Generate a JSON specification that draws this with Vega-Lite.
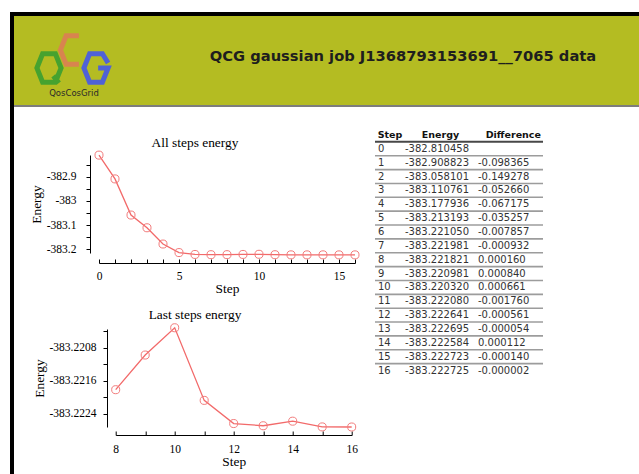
{
  "$schema": "https://vega.github.io/schema/vega-lite/v6.json",
  "background": "white",
  "padding": {"left": 10, "top": 12, "right": 0, "bottom": 0},
  "config": {
    "view": {"stroke": null},
    "axis": {
      "domainColor": "black", "tickColor": "black", "labelColor": "black", "titleColor": "black",
      "labelFont": "Liberation Serif", "titleFont": "Liberation Serif",
      "labelFontSize": 11.5, "titleFontSize": 13.4, "titleFontWeight": "normal",
      "grid": false, "domainWidth": 1, "tickWidth": 1, "labelOverlap": false, "labelFlush": false
    }
  },
  "datasets": {
    "energy": [
      {"Step": 0, "Energy": -382.810458, "Difference": null},
      {"Step": 1, "Energy": -382.908823, "Difference": -0.098365},
      {"Step": 2, "Energy": -383.058101, "Difference": -0.149278},
      {"Step": 3, "Energy": -383.110761, "Difference": -0.052660},
      {"Step": 4, "Energy": -383.177936, "Difference": -0.067175},
      {"Step": 5, "Energy": -383.213193, "Difference": -0.035257},
      {"Step": 6, "Energy": -383.221050, "Difference": -0.007857},
      {"Step": 7, "Energy": -383.221981, "Difference": -0.000932},
      {"Step": 8, "Energy": -383.221821, "Difference": 0.000160},
      {"Step": 9, "Energy": -383.220981, "Difference": 0.000840},
      {"Step": 10, "Energy": -383.220320, "Difference": 0.000661},
      {"Step": 11, "Energy": -383.222080, "Difference": -0.001760},
      {"Step": 12, "Energy": -383.222641, "Difference": -0.000561},
      {"Step": 13, "Energy": -383.222695, "Difference": -0.000054},
      {"Step": 14, "Energy": -383.222584, "Difference": 0.000112},
      {"Step": 15, "Energy": -383.222723, "Difference": -0.000140},
      {"Step": 16, "Energy": -383.222725, "Difference": -0.000002}
    ]
  },
  "bounds": "flush",
  "spacing": 0,
  "hconcat": [
    {"width": 4, "height": 462, "data": {"values": [{}]}, "mark": {"type": "text", "text": "", "fontSize": 0.1}, "view": {"fill": "black", "stroke": null}},
    {
      "bounds": "flush",
      "spacing": 0,
      "vconcat": [
        {"width": 625, "height": 4, "data": {"values": [{}]}, "mark": {"type": "text", "text": "", "fontSize": 0.1}, "view": {"fill": "black", "stroke": null}},
        {
          "width": 625, "height": 89,
          "view": {"fill": "#b4bc22", "stroke": null},
          "data": {"values": [
            {"letter": "Q", "level": "bottom", "name": "QosCosGrid", "title": "QCG gaussian job J1368793153691__7065 data"},
            {"letter": "C", "level": "top", "name": "QosCosGrid", "title": "QCG gaussian job J1368793153691__7065 data"},
            {"letter": "G", "level": "bottom", "name": "QosCosGrid", "title": "QCG gaussian job J1368793153691__7065 data"}
          ]},
          "layer": [
            {
              "mark": {"type": "point", "filled": false, "size": 810, "strokeWidth": 5, "opacity": 1},
              "encoding": {
                "x": {"field": "letter", "type": "nominal", "axis": null, "scale": {"type": "point", "domain": ["Q", "C", "G"], "range": [35, 82], "padding": 0}},
                "y": {"field": "level", "type": "nominal", "axis": null, "scale": {"type": "point", "domain": ["top", "bottom"], "range": [34, 52], "padding": 0}},
                "shape": {"field": "letter", "type": "nominal", "legend": null, "scale": {"domain": ["Q", "C", "G"], "range": [
                  "M-0.85,0L-0.45,-1L0.45,-1L0.85,0L0.45,1L-0.45,1Z M0.3,0.55L0.7,1.05",
                  "M0.45,-1L-0.45,-1L-0.85,0L-0.45,1L0.45,1",
                  "M0.85,-0.35L0.45,-1L-0.45,-1L-0.85,0L-0.45,1L0.45,1L0.85,0L0.15,0"
                ]}},
                "color": {"field": "letter", "type": "nominal", "legend": null, "scale": {"domain": ["Q", "C", "G"], "range": ["#46a22f", "#d8844f", "#4f62d6"]}}
              }
            },
            {
              "transform": [{"filter": "datum.letter == 'Q'"}],
              "mark": {"type": "text", "font": "DejaVu Sans", "fontSize": 8.5, "color": "#2a2a2a", "dx": -252.5, "dy": 32, "baseline": "middle"},
              "encoding": {"text": {"field": "name"}}
            },
            {
              "transform": [{"filter": "datum.letter == 'Q'"}],
              "mark": {"type": "text", "font": "DejaVu Sans", "fontWeight": "bold", "fontSize": 14.7, "color": "#1e1e1e", "dx": 76.5, "dy": -4, "baseline": "middle"},
              "encoding": {"text": {"field": "title"}}
            }
          ]
        },
        {"width": 625, "height": 2, "data": {"values": [{}]}, "mark": {"type": "text", "text": "", "fontSize": 0.1}, "view": {"fill": "#7d7d7d", "stroke": null}},
        {
          "bounds": "flush",
          "spacing": 361,
          "hconcat": [
            {
              "bounds": "flush",
              "spacing": 0,
              "vconcat": [
                {"width": 1, "height": 48, "data": {"values": [{}]}, "mark": {"type": "text", "text": "", "fontSize": 0.1}},
                {
                  "bounds": "flush",
                  "spacing": 84,
                  "hconcat": [
                    {"width": 1, "height": 98, "data": {"values": [{}]}, "mark": {"type": "text", "text": "", "fontSize": 0.1}},
                    {
                      "width": 256, "height": 98,
                      "data": {"name": "energy"},
                      "title": {"text": "All steps energy", "font": "Liberation Serif", "fontSize": 13.4, "fontWeight": "normal", "color": "black", "anchor": "middle", "dx": -32, "offset": 0},
                      "mark": {"type": "line", "color": "#f26a6a", "strokeWidth": 1.3, "point": {"filled": false, "size": 65, "color": "#f27c7c", "strokeWidth": 1}},
                      "encoding": {
                        "x": {"field": "Step", "type": "quantitative", "scale": {"domain": [0, 16], "nice": false, "zero": false},
                          "axis": {"title": "Step", "values": [0,1,2,3,4,5,6,7,8,9,10,11,12,13,14,15,16], "labelExpr": "datum.value % 5 == 0 ? '' + datum.value : ''", "offset": 10, "tickSize": -4, "labelPadding": 11, "titlePadding": 0}},
                        "y": {"field": "Energy", "type": "quantitative", "scale": {"domain": [-383.215, -382.81], "nice": false, "zero": false},
                          "axis": {"title": "Energy", "values": [-382.85, -382.9, -382.95, -383, -383.05, -383.1, -383.15, -383.2], "labelExpr": "abs(round(datum.value * 20)) % 2 == 0 ? '' + datum.value : ''", "offset": 9, "tickSize": 4, "labelPadding": 10, "titlePadding": 3}}
                      }
                    }
                  ]
                },
                {"width": 1, "height": 174, "data": {"values": [{}]}, "mark": {"type": "text", "text": "", "fontSize": 0.1}},
                {
                  "bounds": "flush",
                  "spacing": 100.7,
                  "hconcat": [
                    {"width": 1, "height": 98, "data": {"values": [{}]}, "mark": {"type": "text", "text": "", "fontSize": 0.1}},
                    {
                      "width": 236, "height": 98,
                      "data": {"name": "energy"},
                      "transform": [{"filter": "datum.Step >= 8"}],
                      "title": {"text": "Last steps energy", "font": "Liberation Serif", "fontSize": 13.4, "fontWeight": "normal", "color": "black", "anchor": "middle", "dx": -38.7, "offset": 0.5},
                      "mark": {"type": "line", "color": "#f26a6a", "strokeWidth": 1.3, "point": {"filled": false, "size": 65, "color": "#f27c7c", "strokeWidth": 1}},
                      "encoding": {
                        "x": {"field": "Step", "type": "quantitative", "scale": {"domain": [8, 16], "nice": false, "zero": false},
                          "axis": {"title": "Step", "values": [8,9,10,11,12,13,14,15,16], "labelExpr": "datum.value % 2 == 0 ? '' + datum.value : ''", "offset": 8, "tickSize": -4, "labelPadding": 12, "titlePadding": 0}},
                        "y": {"field": "Energy", "type": "quantitative", "scale": {"domain": [-383.222725, -383.22035], "nice": false, "zero": false},
                          "axis": {"title": "Energy", "values": [-383.2204, -383.2208, -383.2212, -383.2216, -383.222, -383.2224], "labelExpr": "abs(round(datum.value * 10000)) % 8 == 0 ? '' + datum.value : ''", "offset": 8.7, "tickSize": 4, "labelPadding": 7, "titlePadding": 3}}
                      }
                    }
                  ]
                }
              ]
            },
            {
              "bounds": "flush",
              "spacing": 0,
              "vconcat": [
                {"width": 1, "height": 20.4, "data": {"values": [{}]}, "mark": {"type": "text", "text": "", "fontSize": 0.1}},
                {
                  "width": 168, "height": 249.5,
                  "data": {"name": "energy"},
                  "layer": [
                    {
                      "transform": [{"filter": "datum.Step < 16"}],
                      "mark": {"type": "rule", "color": "#9c9c9c", "strokeWidth": 1.6},
                      "encoding": {"y": {"field": "Step", "type": "ordinal", "bandPosition": 1, "axis": null, "scale": {"type": "band", "domain": [-1,0,1,2,3,4,5,6,7,8,9,10,11,12,13,14,15,16], "paddingInner": 0, "paddingOuter": 0}}}
                    },
                    {
                      "data": {"values": [{"Column": "Step"}]},
                      "mark": {"type": "rule", "color": "#474747", "strokeWidth": 2},
                      "encoding": {"y": {"datum": -1, "type": "ordinal", "bandPosition": 1}}
                    },
                    {
                      "data": {"values": [{"Column": "Step"}]},
                      "mark": {"type": "text", "font": "DejaVu Sans", "fontWeight": "bold", "fontSize": 9.5, "color": "#111111", "align": "center", "baseline": "middle", "dx": -69},
                      "encoding": {"y": {"datum": -1, "type": "ordinal"}, "text": {"field": "Column"}}
                    },
                    {
                      "data": {"values": [{"Column": "Energy"}]},
                      "mark": {"type": "text", "font": "DejaVu Sans", "fontWeight": "bold", "fontSize": 9.5, "color": "#111111", "align": "center", "baseline": "middle", "dx": -18.5},
                      "encoding": {"y": {"datum": -1, "type": "ordinal"}, "text": {"field": "Column"}}
                    },
                    {
                      "data": {"values": [{"Column": "Difference"}]},
                      "mark": {"type": "text", "font": "DejaVu Sans", "fontWeight": "bold", "fontSize": 9.5, "color": "#111111", "align": "center", "baseline": "middle", "dx": 54.3},
                      "encoding": {"y": {"datum": -1, "type": "ordinal"}, "text": {"field": "Column"}}
                    },
                    {
                      "mark": {"type": "text", "font": "DejaVu Sans", "fontSize": 10, "color": "#333333", "align": "left", "baseline": "middle", "dx": -81},
                      "encoding": {"y": {"field": "Step", "type": "ordinal"}, "text": {"field": "Step", "type": "ordinal"}}
                    },
                    {
                      "mark": {"type": "text", "font": "DejaVu Sans", "fontSize": 10, "color": "#333333", "align": "left", "baseline": "middle", "dx": -54,
                        "text": {"expr": "replace(format(datum.Energy, '.6f'), '\u2212', '-')"}},
                      "encoding": {"y": {"field": "Step", "type": "ordinal"}}
                    },
                    {
                      "mark": {"type": "text", "font": "DejaVu Sans", "fontSize": 10, "color": "#333333", "align": "left", "baseline": "middle", "dx": 19,
                        "text": {"expr": "datum.Difference == null ? '' : replace(format(datum.Difference, '.6f'), '\u2212', '-')"}},
                      "encoding": {"y": {"field": "Step", "type": "ordinal"}}
                    }
                  ]
                }
              ]
            }
          ]
        }
      ]
    }
  ]
}
